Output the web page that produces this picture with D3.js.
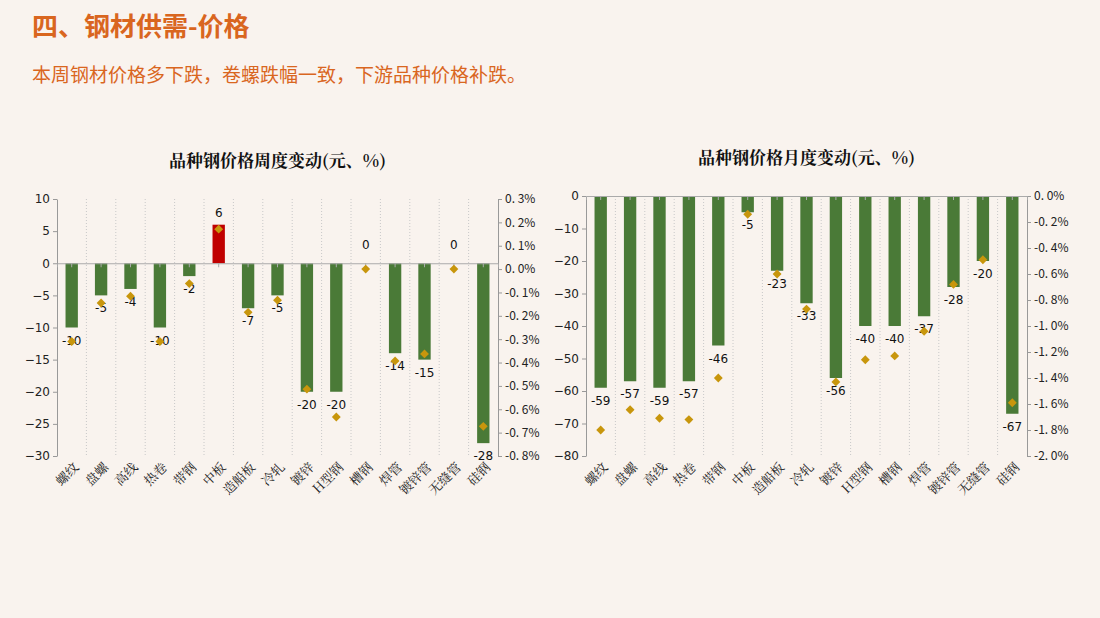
<!DOCTYPE html>
<html><head><meta charset="utf-8">
<script src="https://cdn.jsdelivr.net/npm/d3@7"></script>
<style>
body{margin:0;background:#f9f3ee;font-family:"Noto Sans CJK SC",sans-serif;}
</style></head>
<body><svg id="c" width="1100" height="618"></svg>
<script>
const categories = ['螺纹','盘螺','高线','热卷','带钢','中板','造船板','冷轧','镀锌','H型钢','槽钢','焊管','镀锌管','无缝管','硅钢'];
const weekValues = [-10,-5,-4,-10,-2,6,-7,-5,-20,-20,0,-14,-15,0,-28];
const weekPct = [-0.31,-0.145,-0.116,-0.31,-0.062,0.171,-0.185,-0.133,-0.514,-0.633,0,-0.393,-0.363,0,-0.673];
const monthValues = [-59,-57,-59,-57,-46,-5,-23,-33,-56,-40,-40,-37,-28,-20,-67];
const monthPct = [-1.80,-1.644,-1.71,-1.72,-1.40,-0.14,-0.60,-0.87,-1.43,-1.26,-1.23,-1.04,-0.68,-0.49,-1.59];
const weekTicks = [10,5,0,-5,-10,-15,-20,-25,-30];
const weekPctTicks = [0.3,0.2,0.1,0,-0.1,-0.2,-0.3,-0.4,-0.5,-0.6,-0.7,-0.8];
const monthTicks = [0,-10,-20,-30,-40,-50,-60,-70,-80];
const monthPctTicks = [0,-0.2,-0.4,-0.6,-0.8,-1.0,-1.2,-1.4,-1.6,-1.8,-2.0];

const svg = d3.select('#c');
svg.append('text').attr('x', 32).attr('y', 36).attr('fill', '#d9661f')
  .attr('font-size', '26px').attr('font-weight', 'bold').text('四、钢材供需-价格');
svg.append('text').attr('x', 32).attr('y', 82).attr('fill', '#d9661f')
  .attr('font-size', '19px').text('本周钢材价格多下跌，卷螺跌幅一致，下游品种价格补跌。');

function drawChart(opt) {
  const g = svg.append('g');
  const x = d3.scaleBand().domain(categories).range([opt.x0, opt.x1]);
  const y = d3.scaleLinear().domain(opt.yDomain).range([opt.top, opt.bottom]);
  const y2 = d3.scaleLinear().domain(opt.y2Domain).range([opt.top, opt.bottom]);

  g.append('text').attr('x', (opt.x0 + opt.x1) / 2).attr('y', opt.top - 32)
    .attr('text-anchor', 'middle').attr('font-size', '17px').attr('font-weight', 'bold')
    .attr('fill', '#111').attr('font-family', '"Noto Serif CJK SC","Noto Sans CJK SC",serif')
    .text(opt.title);

  // dotted separators
  g.selectAll('.sep').data(categories.slice(1)).enter().append('line')
    .attr('x1', (d) => x(d)).attr('x2', (d) => x(d))
    .attr('y1', opt.top).attr('y2', opt.bottom)
    .attr('stroke', '#c8c8c8').attr('stroke-dasharray', '1,2');

  const yAxis = d3.axisLeft(y).tickValues(opt.yTicks).tickSize(4).tickSizeOuter(0);
  const ya = g.append('g').attr('transform', `translate(${opt.x0},0)`).call(yAxis);
  const y2Axis = d3.axisRight(y2).tickValues(opt.y2Ticks).tickSize(4).tickSizeOuter(0)
    .tickFormat((d) => d.toFixed(1).replace('.', '. ').replace('-0. 0', '0. 0') + '%');
  const y2a = g.append('g').attr('transform', `translate(${opt.x1},0)`).call(y2Axis);
  [ya, y2a].forEach((a) => {
    a.selectAll('path,line').attr('stroke', '#999');
    a.selectAll('text').attr('font-size', '12px').attr('fill', '#222')
      .attr('font-family', '"DejaVu Sans",sans-serif');
  });
  y2a.selectAll('text').attr('font-family', '"Noto Sans CJK SC",sans-serif');

  g.selectAll('.bar').data(opt.values).enter().append('rect')
    .attr('x', (d, i) => x(categories[i]) + x.bandwidth() * 0.29)
    .attr('width', x.bandwidth() * 0.42)
    .attr('y', (d) => y(Math.max(0, d)))
    .attr('height', (d) => Math.abs(y(d) - y(0)))
    .attr('fill', (d) => (d > 0 ? '#c00000' : '#4a7a37'));

  const xa = g.append('g').attr('transform', `translate(0,${y(0)})`)
    .call(d3.axisBottom(x).tickSize(4).tickFormat(''));
  xa.selectAll('path,line').attr('stroke', '#aaa');

  g.selectAll('.lbl').data(opt.values).enter().append('text')
    .attr('x', (d, i) => x(categories[i]) + x.bandwidth() / 2)
    .attr('y', (d) => (d > 0 ? y(d) - 8 : d === 0 ? y(0) - 14 : y(d) + 17))
    .attr('text-anchor', 'middle').attr('font-size', '12px').attr('fill', '#111')
    .attr('font-family', '"DejaVu Sans",sans-serif')
    .text((d) => d);

  g.selectAll('.dia').data(opt.pct).enter().append('path')
    .attr('d', d3.symbol().type(d3.symbolDiamond2).size(50))
    .attr('transform', (d, i) => `translate(${x(categories[i]) + x.bandwidth() / 2},${y2(d)})`)
    .attr('fill', '#c8960c');

  g.selectAll('.cat').data(categories).enter().append('text')
    .attr('transform', (d) => `translate(${x(d) + x.bandwidth() / 2 + 8},${opt.bottom + 12}) rotate(-45)`)
    .attr('text-anchor', 'end').attr('font-size', '13px').attr('fill', '#222')
    .attr('font-family', '"Noto Serif CJK SC","Noto Sans CJK SC",serif')
    .text((d) => d);
}

drawChart({ title: '品种钢价格周度变动(元、%)', x0: 57, x1: 498, top: 199, bottom: 456,
  yDomain: [10, -30], y2Domain: [0.3, -0.8], yTicks: weekTicks, y2Ticks: weekPctTicks,
  values: weekValues, pct: weekPct });
drawChart({ title: '品种钢价格月度变动(元、%)', x0: 586, x1: 1027, top: 196, bottom: 456,
  yDomain: [0, -80], y2Domain: [0, -2.0], yTicks: monthTicks, y2Ticks: monthPctTicks,
  values: monthValues, pct: monthPct });
</script></body></html>
